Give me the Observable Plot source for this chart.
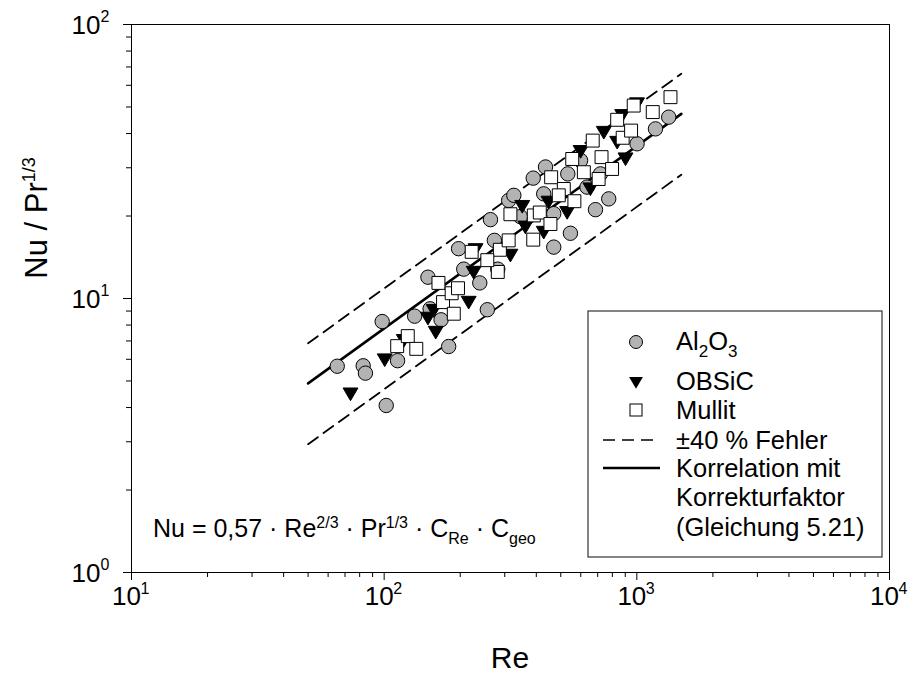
<!DOCTYPE html>
<html><head><meta charset="utf-8">
<script src="https://cdn.jsdelivr.net/npm/d3@7"></script>
<script src="https://cdn.jsdelivr.net/npm/@observablehq/plot@0.6"></script>
<style>
body{margin:0;background:#fff}
#chart{width:910px;height:675px}
svg text{white-space:pre}
</style>
</head><body><div id="chart"></div>
<script>
// ---- data ----
const al2o3Re = [65.2,82.6,84.3,101.9,98.2,113,132,149,168,180,197,206.5,239,256,273,281.6,152,263.5,311,326,389,435,533,428,469,546,469,686,774,635,718,1002,1185,1337,346,599];
const al2o3Nu = [5.66,5.68,5.34,4.07,8.24,5.93,8.62,11.96,8.36,6.68,15.2,12.8,11.4,9.1,16.3,12.8,9.17,19.4,22.8,23.8,27.5,30.2,28.5,24.1,20.4,17.3,15.4,21.1,23.1,25.5,28.5,36.7,41.6,45.9,19.9,31.9];
const obsicRe = [73.6,100.5,119.6,149,160,157,216,226,230,316,352,362,428,530,599,740,836,875,1002,655,902,447];
const obsicNu = [4.55,6.06,7.13,8.6,7.64,9.17,9.83,12.65,15.3,14.6,22.0,18.5,17.7,20.9,34.9,41.0,37.7,47.2,52.1,25.5,32.8,22.8];
const mullitRe = [112.6,124,134,164,171,188.6,185,196,222,281.6,287,256,316,311,389,391,413,455,458,514,491,566,555,617,669,725,798,706,836,879,949,972,1156,1359];
const mullitNu = [6.7,7.29,6.55,11.4,9.7,8.8,10.45,10.9,14.8,12.5,15.06,13.8,20.3,16.3,16.4,20.1,20.6,18.7,27.7,25.1,23.8,22.65,32.3,28.9,37.7,32.8,29.7,27.3,44.9,38.6,41.0,50.6,47.9,54.3];
// correlation line and ±40 % band (end points)
const corrRe = [50, 1500];
const corrNu = [4.9, 47.2];
const upperNu = [6.86, 66.1];
const lowerNu = [2.94, 28.3];
// ticks
const xMajor = [10, 100, 1000, 10000];
const yMajor = [1, 10, 100];
const minorFactors = [2,3,4,5,6,7,8,9];

const zip = (xs, ys) => xs.map((x, i) => ({re: x, nu: ys[i]}));
const al2o3 = zip(al2o3Re, al2o3Nu);
const obsic = zip(obsicRe, obsicNu);
const mullit = zip(mullitRe, mullitNu);
const corr = zip(corrRe, corrNu);
const upper = zip(corrRe, upperNu);
const lower = zip(corrRe, lowerNu);
const xMinor = [10,100,1000].flatMap(d => minorFactors.map(f => d*f));
const yMinor = [1,10].flatMap(d => minorFactors.map(f => d*f));

const triangleDown = {
  draw(context, size) {
    const s = Math.sqrt(size);
    const w = s * 1.2, h = w * 0.85;
    context.moveTo(-w/2, -h/3);
    context.lineTo(w/2, -h/3);
    context.lineTo(0, 2*h/3);
    context.closePath();
  }
};

const FONT = "'Liberation Sans', Arial, Helvetica, sans-serif";

const plot = Plot.plot({
  width: 910,
  height: 675,
  marginLeft: 131,
  marginRight: 21,
  marginTop: 24,
  marginBottom: 103,
  style: {fontFamily: FONT, fontSize: "24px", background: "#fff", color: "#000"},
  x: {type: "log", domain: [10, 10000], label: null},
  y: {type: "log", domain: [1, 100], label: null},
  marks: [
    Plot.axisX({ticks: xMajor, tickSize: 8, tickFormat: () => "", label: null, stroke: "#000"}),
    Plot.axisX({ticks: xMinor, tickSize: 5, tickFormat: () => "", label: null, stroke: "#000"}),
    Plot.axisY({ticks: yMajor, tickSize: 8, tickFormat: () => "", label: null, stroke: "#000"}),
    Plot.axisY({ticks: yMinor, tickSize: 5, tickFormat: () => "", label: null, stroke: "#000"}),
    // tick labels with superscripts
    Plot.text(xMajor, {x: d => d, frameAnchor: "bottom", dy: 32, dx: -5, text: () => "10", fontSize: 26}),
    Plot.text(xMajor, {x: d => d, frameAnchor: "bottom", dy: 21, dx: 9, textAnchor: "start", text: d => String(Math.round(Math.log10(d))), fontSize: 16}),
    Plot.text(yMajor, {y: d => d, frameAnchor: "left", dx: -31, dy: 1, textAnchor: "end", text: () => "10", fontSize: 26}),
    Plot.text(yMajor, {y: d => d, frameAnchor: "left", dx: -31, dy: -8, textAnchor: "start", text: d => String(Math.round(Math.log10(d))), fontSize: 16}),
    Plot.frame({stroke: "#000", strokeWidth: 1}),
    // lines
    Plot.line(upper, {x: "re", y: "nu", stroke: "#000", strokeWidth: 1.8, strokeDasharray: "12,7"}),
    Plot.line(lower, {x: "re", y: "nu", stroke: "#000", strokeWidth: 1.8, strokeDasharray: "12,7"}),
    Plot.line(corr, {x: "re", y: "nu", stroke: "#000", strokeWidth: 2.6}),
    // points
    Plot.dot(al2o3, {x: "re", y: "nu", r: 7.2, symbol: "circle", fill: "#b3b3b3", stroke: "#000", strokeWidth: 1}),
    Plot.dot(obsic, {x: "re", y: "nu", r: 7, symbol: triangleDown, fill: "#000", stroke: "#000", strokeWidth: 1}),
    Plot.dot(mullit, {x: "re", y: "nu", r: 7.3, symbol: "square", fill: "#fff", stroke: "#000", strokeWidth: 1})
  ]
});

document.getElementById("chart").appendChild(plot);
const svg = d3.select(plot);

// axis titles
svg.append("text").attr("x", 510).attr("y", 668).attr("text-anchor", "middle")
  .attr("font-family", FONT).attr("font-size", 30).text("Re");
const yt = svg.append("text").attr("transform", "translate(47,218) rotate(-90)").attr("text-anchor", "middle")
  .attr("font-family", FONT).attr("font-size", 31);
yt.append("tspan").text("Nu / Pr");
yt.append("tspan").attr("dy", -12).attr("font-size", 18).text("1/3");

// equation
const eq = svg.append("text").attr("x", 153).attr("y", 537).attr("text-anchor", "start")
  .attr("font-family", FONT).attr("font-size", 25);
const seg = (t, opt = {}) => { const s = eq.append("tspan").text(t); if (opt.dy) s.attr("dy", opt.dy); if (opt.fs) s.attr("font-size", opt.fs); return s; };
seg("Nu = 0,57 · Re");
seg("2/3", {dy: -9, fs: 16});
seg(" · Pr", {dy: 9});
seg("1/3", {dy: -9, fs: 16});
seg(" · C", {dy: 9});
seg("Re", {dy: 7, fs: 16});
seg(" · C", {dy: -7});
seg("geo", {dy: 7, fs: 16});

// legend
const lg = svg.append("g").attr("font-family", FONT).attr("font-size", 25.5).attr("text-anchor", "start");
lg.append("rect").attr("x", 588).attr("y", 311).attr("width", 294).attr("height", 246)
  .attr("fill", "#fff").attr("stroke", "#333").attr("stroke-width", 1.2);
const mx = 636, tx = 676;
lg.append("circle").attr("cx", mx).attr("cy", 342).attr("r", 6.5).attr("fill", "#b3b3b3").attr("stroke", "#000");
const t1 = lg.append("text").attr("x", tx).attr("y", 350);
t1.append("tspan").text("Al");
t1.append("tspan").attr("dy", 7).attr("font-size", 17).text("2");
t1.append("tspan").attr("dy", -7).text("O");
t1.append("tspan").attr("dy", 7).attr("font-size", 17).text("3");
lg.append("path").attr("d", d3.symbol(triangleDown, 6.5*6.5*Math.PI)()).attr("transform", `translate(${mx},381)`).attr("fill", "#000");
lg.append("text").attr("x", tx).attr("y", 390).text("OBSiC");
lg.append("rect").attr("x", mx-6).attr("y", 404).attr("width", 12).attr("height", 12).attr("fill", "#fff").attr("stroke", "#000");
lg.append("text").attr("x", tx).attr("y", 419).text("Mullit");
lg.append("line").attr("x1", 603).attr("x2", 660).attr("y1", 440).attr("y2", 440).attr("stroke", "#000").attr("stroke-width", 1.6).attr("stroke-dasharray", "12,7");
lg.append("text").attr("x", tx).attr("y", 449).text("±40 % Fehler");
lg.append("line").attr("x1", 603).attr("x2", 660).attr("y1", 468).attr("y2", 468).attr("stroke", "#000").attr("stroke-width", 2.6);
lg.append("text").attr("x", tx).attr("y", 477).text("Korrelation mit");
lg.append("text").attr("x", tx).attr("y", 506).text("Korrekturfaktor");
lg.append("text").attr("x", tx).attr("y", 536).text("(Gleichung 5.21)");
</script>
</body></html>
